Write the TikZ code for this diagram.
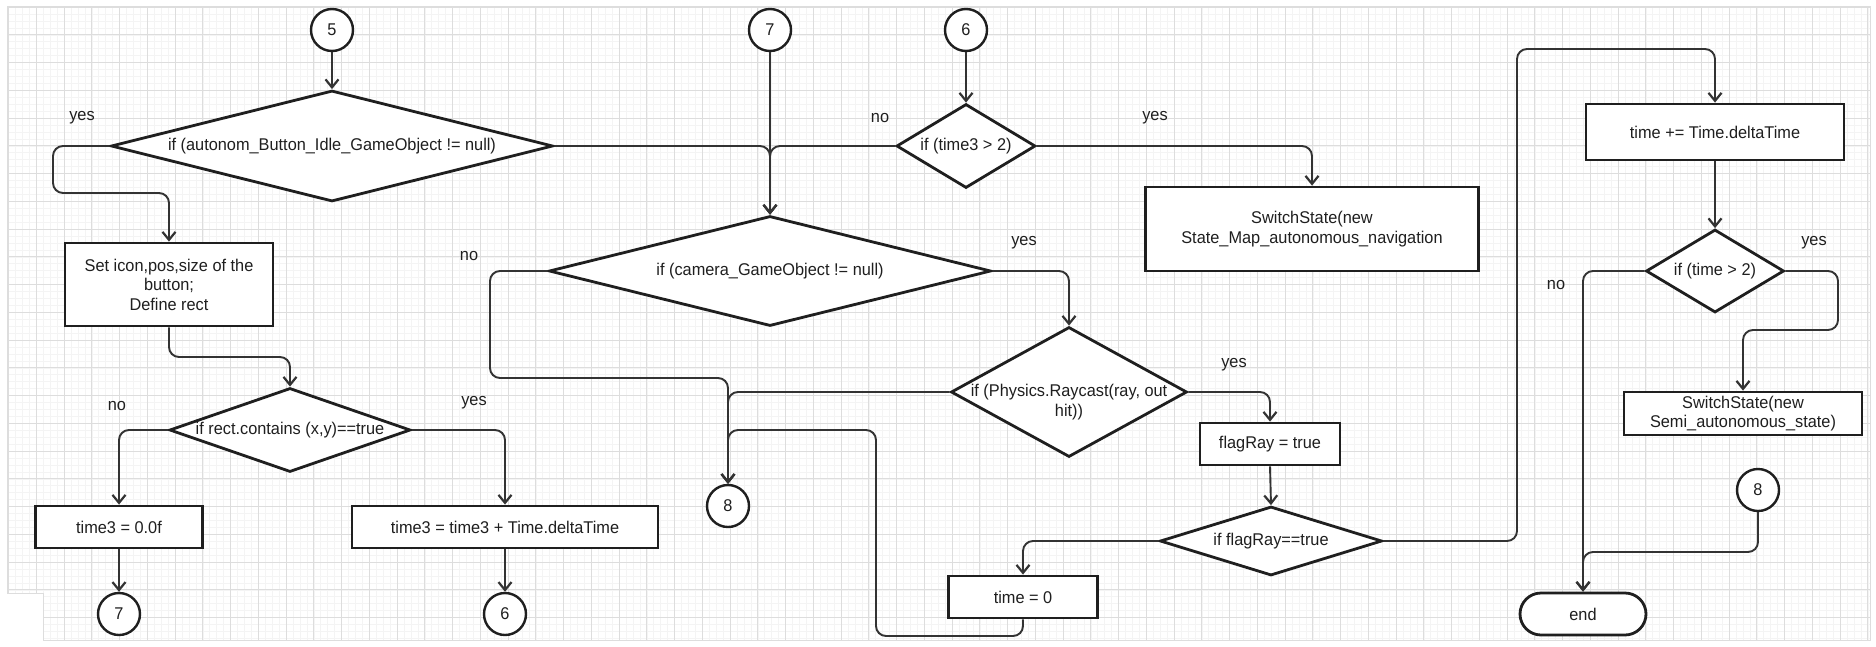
\documentclass[tikz,border=0pt]{standalone}
\usepackage{fontspec}
\newfontfamily\diagfont[FakeStretch=0.96]{Liberation Sans}
\usetikzlibrary{shapes.geometric,arrows.meta}
\definecolor{ink}{HTML}{1F1F1F}
\definecolor{wirecol}{HTML}{333333}
\definecolor{gridmajor}{HTML}{DDDDDD}
\definecolor{gridminor}{HTML}{F4F4F4}

\tikzset{
  txt/.style={font=\diagfont\fontsize{17}{19.5}\selectfont, text=ink},
  box/.style={txt, draw=ink, line width=2.8pt, fill=white, rectangle, inner sep=0pt, align=center},
  dec/.style={draw=ink, line width=2.8pt, fill=white, diamond, inner sep=0pt},
  conn/.style={txt, draw=ink, line width=2.4pt, fill=white, circle, inner sep=0pt, minimum size=42pt},
  term/.style={box, rounded corners=21pt},
  wire/.style={draw=wirecol, line width=1.9pt, rounded corners=10pt,
    -{Straight Barb[length=8pt,width=13pt,line width=2.2pt]}},
  lbl/.style={txt, inner sep=0pt},
}

\begin{document}
\begin{tikzpicture}[x=1pt, y=-1pt]
\useasboundingbox (0,0) rectangle (1876,646);
\fill[white] (0,0) rectangle (1876,646);

% background grid
\begin{scope}
  \clip (7,6) -- (1870,6) -- (1870,640) -- (43,640) -- (43,593) -- (7,593) -- cycle;
  \foreach \i in {-2,...,270} \draw[gridminor, line width=0.5pt] ({8.5+\i*6.9375},0) -- ++(0,646);
  \foreach \i in {-2,...,93} \draw[gridminor, line width=0.5pt] (0,{7+\i*6.9375}) -- ++(1876,0);
  \foreach \i in {0,...,67} \draw[gridmajor, line width=0.9pt] ({8.5+\i*27.75},0) -- ++(0,646);
  \foreach \i in {0,...,23} \draw[gridmajor, line width=0.9pt] (0,{7+\i*27.75}) -- ++(1876,0);
\end{scope}
\draw[gridmajor, line width=0.9pt] (7,6) -- (1870,6) -- (1870,640) -- (43,640) -- (43,593) -- (7,593) -- cycle;

% connectors (off-page references)
\node[conn] (c5)  at (332,30)  {5};
\node[conn] (c7t) at (770,30)  {7};
\node[conn] (c6t) at (966,30)  {6};
\node[conn] (c7b) at (119,614) {7};
\node[conn] (c6b) at (505,614) {6};
\node[conn] (c8a) at (728,506) {8};
\node[conn] (c8b) at (1758,490) {8};

% decisions
\node[dec, minimum width=442pt, minimum height=111pt,
  label={[txt]center:{if (autonom\_Button\_Idle\_GameObject != null)}}] (D1) at (332,146) {};
\node[dec, minimum width=442pt, minimum height=110pt,
  label={[txt]center:{if (camera\_GameObject != null)}}] (D2) at (770,271) {};
\node[dec, minimum width=139pt, minimum height=84pt,
  label={[txt]center:{if (time3 > 2)}}] (Dt3) at (966,146) {};
\node[dec, minimum width=241pt, minimum height=84pt,
  label={[txt]center:{if rect.contains (x,y)==true}}] (D3) at (290,430) {};
\node[dec, minimum width=236pt, minimum height=130pt,
  label={[txt, align=center, yshift=-10pt]center:{if (Physics.Raycast(ray, out\\hit))}}] (DP) at (1069,392) {};
\node[dec, minimum width=222pt, minimum height=69pt,
  label={[txt]center:{if flagRay==true}}] (DF) at (1271,541) {};
\node[dec, minimum width=138pt, minimum height=83pt,
  label={[txt]center:{if (time > 2)}}] (DT) at (1715,271) {};

% process steps
\node[box, minimum width=208pt, minimum height=83pt] (B1) at (169,284.5)
  {Set icon,pos,size of the\\button;\\Define rect};
\node[box, minimum width=167pt, minimum height=42pt] (B2) at (119,527) {time3 = 0.0f};
\node[box, minimum width=306pt, minimum height=42pt] (B3) at (505,527) {time3 = time3 + Time.deltaTime};
\node[box, minimum width=333pt, minimum height=84pt] (B4) at (1312,229)
  {SwitchState(new\\State\_Map\_autonomous\_navigation};
\node[box, minimum width=140pt, minimum height=42pt] (B5) at (1270,444) {flagRay = true};
\node[box, minimum width=149pt, minimum height=42pt] (B6) at (1023,597) {time = 0};
\node[box, minimum width=258pt, minimum height=56pt] (B7) at (1715,132) {time += Time.deltaTime};
\node[box, minimum width=238pt, minimum height=43pt] (B8) at (1743,413.5)
  {SwitchState(new\\Semi\_autonomous\_state)};
\node[term, minimum width=126pt, minimum height=42pt] (End) at (1583,614) {end};

% flow
\draw[wire] (c5.south) -- (D1.north);
\draw[wire] (D1.west) -- (53,146) -- (53,193) -| (B1.north);
\draw[wire] (D1.east) -- (D2.north |- D1.east) -- (D2.north);
\draw[wire] (c7t.south) -- (D2.north);
\draw[wire] (c6t.south) -- (Dt3.north);
\draw[wire] (Dt3.west) -- (D2.north |- Dt3.west) -- (D2.north);
\draw[wire] (Dt3.east) -| (B4.north);
\draw[wire] (B1.south) -- (169,357) -| (D3.north);
\draw[wire] (D3.west) -| (B2.north);
\draw[wire] (D3.east) -| (B3.north);
\draw[wire] (B2.south) -- (c7b.north);
\draw[wire] (B3.south) -- (c6b.north);
\draw[wire] (D2.west) -- (490,271) -- (490,378) -| (c8a.north);
\draw[wire] (D2.east) -| (DP.north);
\draw[wire] (DP.west) -| (c8a.north);
\draw[wire] (DP.east) -| (B5.north);
\draw[wire] (B5.south) -- (DF.north);
\draw[wire] (DF.west) -| (B6.north);
\draw[wire] (B6.south) -- (1023,636) -- (876,636) -- (876,430) -| (c8a.north);
\draw[wire] (DF.east) -- (1517,541) -- (1517,49) -| (B7.north);
\draw[wire] (B7.south) -- (DT.north);
\draw[wire] (DT.west) -| (End.north);
\draw[wire] (DT.east) -- (1838,271) -- (1838,330) -| (B8.north);
\draw[wire] (c8b.south) -- (1758,552) -| (End.north);

% branch labels
\node[lbl] (y1) at (82,118) {yes};
\node[lbl] (n1) at (880,118) {no};
\node[lbl] (y2) at (1155,118) {yes};
\node[lbl] (n2) at (469,256) {no};
\node[lbl] (y3) at (1024,243) {yes};
\node[lbl] (n3) at (117,406) {no};
\node[lbl] (y4) at (474,403) {yes};
\node[lbl] (y5) at (1234,365) {yes};
\node[lbl] (y6) at (1814,243) {yes};
\node[lbl] (n4) at (1556,285) {no};
\end{tikzpicture}
\end{document}
